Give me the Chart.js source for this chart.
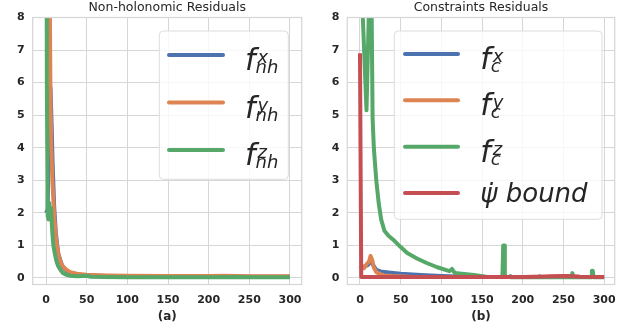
<!DOCTYPE html>
<html>
<head>
<meta charset="utf-8">
<script src="https://cdn.jsdelivr.net/npm/chart.js@4/dist/chart.umd.min.js"></script>
<style>
  html, body { margin: 0; padding: 0; background: #ffffff; }
  #wrap { position: relative; width: 634px; height: 333px; overflow: hidden; }
  canvas { position: absolute; top: 0; }
</style>
</head>
<body>
<div id="wrap">
  <canvas id="c1" width="317" height="333" style="left:0px"></canvas>
  <canvas id="c2" width="317" height="333" style="left:317px"></canvas>
</div>
<script>
// ---------- tick labels ----------
const xTicks = [0, 50, 100, 150, 200, 250, 300];
const yTicks = [0, 1, 2, 3, 4, 5, 6, 7, 8];

// ---------- (a) Non-holonomic residuals ----------
const nhXxs = [0, 2, 4, 5.5, 7, 8, 10, 12, 15, 20, 25, 30, 40, 50, 75, 100, 150, 200, 250, 300];
const nhXys = [2.0, 2.1, 5.3, 5.85, 4.6, 3.6, 2.2, 1.4, 0.75, 0.36, 0.23, 0.16, 0.11, 0.08, 0.06, 0.05, 0.05, 0.05, 0.04, 0.04];

const nhYxs = [0, 4.5, 5.5, 6.5, 8, 10, 12, 14, 17, 20, 25, 30, 40, 50, 75, 100, 150, 200, 220, 250, 300];
const nhYys = [20, 9, 5.5, 4.0, 2.9, 1.9, 1.3, 0.9, 0.55, 0.38, 0.25, 0.18, 0.12, 0.1, 0.08, 0.07, 0.06, 0.06, 0.065, 0.05, 0.05];

const nhZxs = [0, 1, 2, 3, 4, 5, 6, 7, 8, 9, 11, 13, 15, 18, 21, 25, 30, 38, 45, 50, 55, 70, 100, 150, 200, 230, 250, 300];
const nhZys = [20, 6, 1.9, 1.8, 2.3, 1.9, 2.15, 1.7, 1.3, 1.0, 0.72, 0.5, 0.36, 0.24, 0.15, 0.1, 0.07, 0.05, 0.06, 0.07, 0.04, 0.03, 0.02, 0.02, 0.02, 0.03, 0.02, 0.02];

// ---------- (b) Constraints residuals ----------
const cXxs = [0, 5, 10, 13, 16, 20, 25, 35, 50, 75, 100, 130, 160, 200, 300];
const cXys = [0.3, 0.35, 0.4, 0.55, 0.4, 0.25, 0.2, 0.17, 0.13, 0.09, 0.06, 0.04, 0.03, 0.03, 0.03];

const cYxs = [0, 3, 5, 8, 11, 13, 15, 17, 20, 25, 30, 40, 60, 100, 115, 120, 125, 150, 230, 250, 270, 300];
const cYys = [0.28, 0.36, 0.3, 0.42, 0.5, 0.68, 0.55, 0.32, 0.18, 0.12, 0.08, 0.06, 0.04, 0.03, 0.03, 0.06, 0.03, 0.03, 0.04, 0.06, 0.04, 0.03];

const cZxs = [0, 2, 3, 8, 11, 13, 14, 15.5, 17, 20, 23, 26, 30, 35, 42, 50, 58, 70, 82, 95, 110, 113, 115, 117, 125, 140, 155, 170, 175, 176, 177, 178, 184, 185, 186, 220, 221, 222, 250, 260, 261, 262, 284, 285, 286, 287, 300];
const cZys = [15, 12, 8.3, 5.15, 8.3, 13, 9, 4.9, 4.0, 3.0, 2.3, 1.8, 1.45, 1.3, 1.15, 0.95, 0.77, 0.6, 0.46, 0.33, 0.21, 0.28, 0.2, 0.15, 0.13, 0.09, 0.04, 0.03, 0.03, 1.0, 1.0, 0.03, 0.03, 0.06, 0.02, 0.02, 0.05, 0.02, 0.02, 0.02, 0.15, 0.02, 0.02, 0.22, 0.22, 0.02, 0.02];

const psiXs = [0, 1.5, 50, 100, 150, 200, 240, 255, 270, 300];
const psiYs = [6.9, 0.03, 0.03, 0.03, 0.03, 0.03, 0.05, 0.06, 0.04, 0.03];

// ---------- legend labels ----------
const nhBase = ['f', 'f', 'f'];
const nhSup = ['x', 'y', 'z'];
const nhSub = ['nh', 'nh', 'nh'];
const cBase = ['f', 'f', 'f', 'ψ̇ bound'];
const cSup = ['x', 'y', 'z', ''];
const cSub = ['c', 'c', 'c', ''];

const COLORS = ['#4C72B0', '#DD8452', '#55A868', '#C44E52'];
const FONT = '"DejaVu Sans", "Liberation Sans", sans-serif';
const TXT = '#262626';
const GRID = '#d6d6d6';

function pts(xs, ys) { return xs.map((x, i) => ({ x: x, y: ys[i] })); }

function ds(data, i, n) {
  return {
    data: data,
    borderColor: COLORS[i],
    backgroundColor: COLORS[i],
    borderWidth: 4,
    pointRadius: 0,
    tension: 0,
    fill: false,
    clip: 0,
    borderJoinStyle: 'round',
    borderCapStyle: 'butt',
    order: n - i
  };
}

const decor = {
  id: 'decor',
  afterDatasetsDraw(chart, args, o) {
    const ctx = chart.ctx, a = chart.chartArea;
    ctx.save();
    // frame (spines)
    ctx.strokeStyle = GRID; ctx.lineWidth = 1.25;
    ctx.strokeRect(a.left, a.top, a.right - a.left, a.bottom - a.top);
    // legend box
    const b = o.box;
    ctx.beginPath();
    ctx.roundRect(b[0], b[1], b[2], b[3], 4);
    ctx.fillStyle = 'rgba(255,255,255,0.8)';
    ctx.fill();
    ctx.strokeStyle = '#dcdcdc'; ctx.lineWidth = 1;
    ctx.stroke();
    // entries
    chart.data.datasets.forEach((d, i) => {
      const y = o.rows[i];
      ctx.beginPath();
      ctx.strokeStyle = d.borderColor; ctx.lineWidth = 4; ctx.lineCap = 'round';
      ctx.moveTo(o.line[0], y); ctx.lineTo(o.line[1], y); ctx.stroke();
      ctx.fillStyle = TXT;
      ctx.textAlign = 'left'; ctx.textBaseline = 'alphabetic';
      const base = o.base[i];
      if (o.sup[i] || o.sub[i]) {
        ctx.font = 'italic 30px ' + FONT;
        ctx.fillText(base, o.labelX, y + 15);
        const w = ctx.measureText(base).width;
        ctx.font = 'italic 18px ' + FONT;
        ctx.fillText(o.sup[i], o.labelX + w + 2, y + 8);
        ctx.fillText(o.sub[i], o.labelX + w, y + 18);
      } else {
        ctx.font = 'italic 26px ' + FONT;
        ctx.fillText(base, o.labelX, y + 8.5);
      }
    });
    ctx.restore();
  },
  afterDraw(chart, args, o) {
    const ctx = chart.ctx, a = chart.chartArea;
    ctx.save();
    ctx.fillStyle = TXT;
    ctx.font = '12.5px ' + FONT;
    ctx.textAlign = 'center'; ctx.textBaseline = 'middle';
    ctx.fillText(o.title, (a.left + a.right) / 2, 7.5);
    ctx.restore();
  }
};

function makeChart(id, datasets, xMin, xMax, yWidth, padRight, sub, legend) {
  return new Chart(document.getElementById(id), {
    type: 'line',
    data: { datasets: datasets },
    plugins: [decor],
    options: {
      responsive: false,
      animation: false,
      devicePixelRatio: 1,
      layout: { padding: { top: 17.5, right: padRight, left: 0, bottom: 0 } },
      plugins: {
        legend: { display: false },
        tooltip: { enabled: false },
        title: { display: false },
        decor: legend
      },
      scales: {
        x: {
          type: 'linear', min: xMin, max: xMax,
          afterBuildTicks: s => { s.ticks = xTicks.map(v => ({ value: v })); },
          afterFit: s => { s.height = 48.5; },
          ticks: { color: TXT, font: { family: FONT, size: 11, weight: 'bold' }, padding: 9, maxRotation: 0, autoSkip: false },
          grid: { color: GRID, lineWidth: 1, drawTicks: false },
          border: { display: false },
          title: { display: true, text: sub, color: TXT, font: { family: FONT, size: 12, weight: 'bold' }, padding: { top: 2, bottom: 9 } }
        },
        y: {
          type: 'linear', min: -0.2, max: 8,
          afterBuildTicks: s => { s.ticks = yTicks.map(v => ({ value: v })); },
          afterFit: s => { s.width = yWidth; },
          ticks: { color: TXT, font: { family: FONT, size: 11, weight: 'bold' }, padding: 8 },
          grid: { color: GRID, lineWidth: 1, drawTicks: false },
          border: { display: false }
        }
      }
    }
  });
}

makeChart('c1', [
  ds(pts(nhXxs, nhXys), 0, 3),
  ds(pts(nhYxs, nhYys), 1, 3),
  ds(pts(nhZxs, nhZys), 2, 3)
], -16.4, 314.4, 32.7, 15.3, '(a)', {
  title: 'Non-holonomic Residuals',
  box: [159.3, 31, 129, 148.3],
  line: [169, 223],
  labelX: 245,
  rows: [55, 102.5, 150],
  base: nhBase, sup: nhSup, sub: nhSub
});

makeChart('c2', [
  ds(pts(cXxs, cXys), 0, 4),
  ds(pts(cYxs, cYys), 1, 4),
  ds(pts(cZxs, cZys), 2, 4),
  ds(pts(psiXs, psiYs), 3, 4)
], -15.6, 313, 30.3, 19.3, '(b)', {
  title: 'Constraints Residuals',
  box: [77.3, 31, 207.7, 188.3],
  line: [88, 141],
  labelX: 163.3,
  rows: [54, 100.3, 146.7, 193],
  base: cBase, sup: cSup, sub: cSub
});
</script>
</body>
</html>
